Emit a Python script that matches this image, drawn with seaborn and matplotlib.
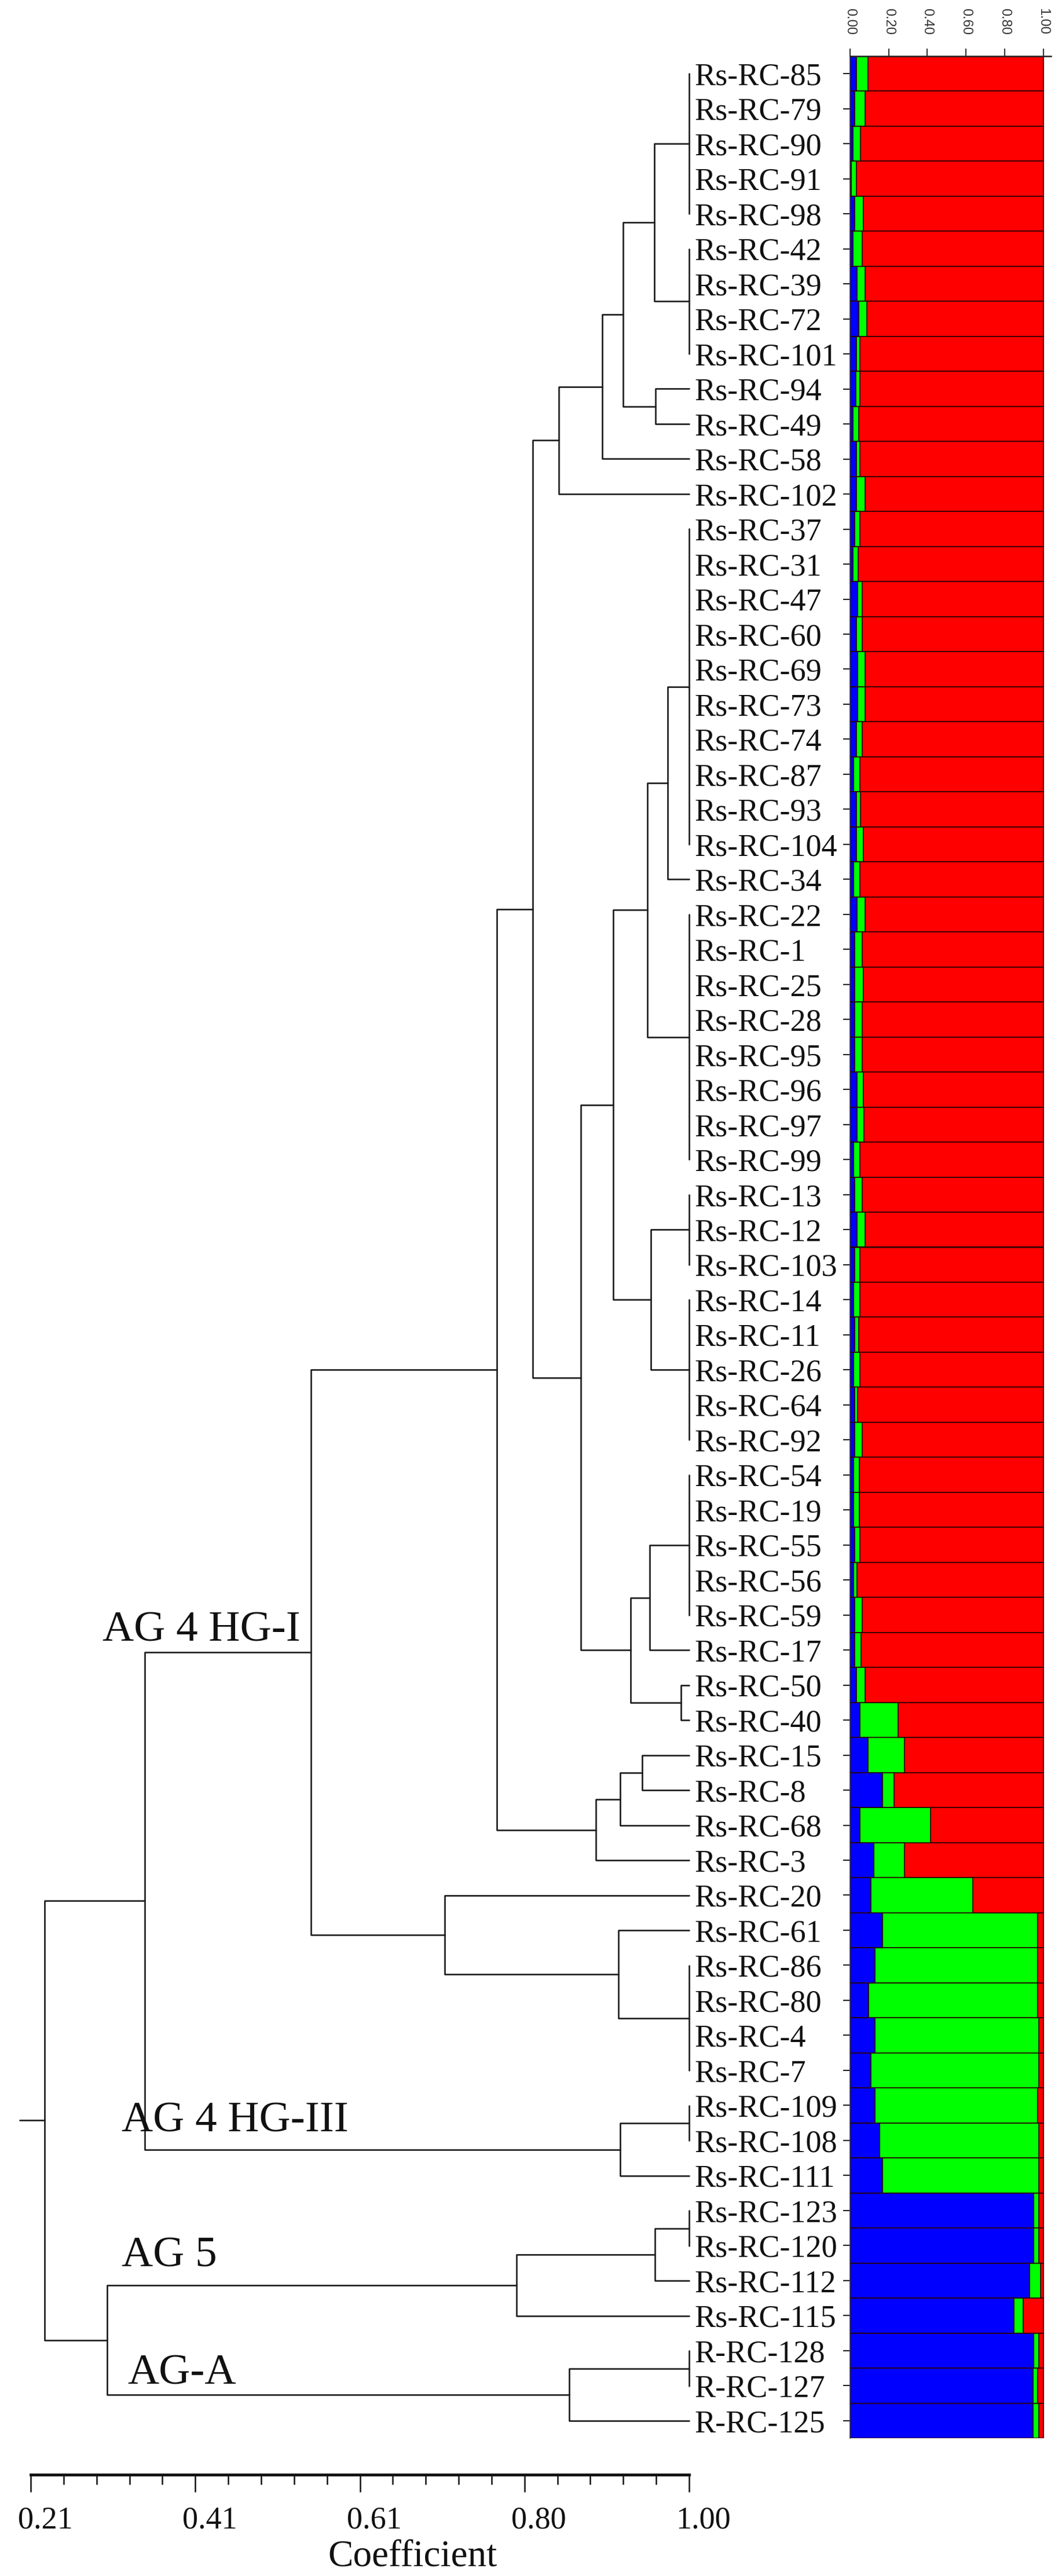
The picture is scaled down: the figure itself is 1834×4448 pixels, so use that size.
import numpy as np
import pandas as pd
import matplotlib
matplotlib.use("Agg")
import matplotlib.pyplot as plt
import matplotlib.transforms as mtransforms
import seaborn as sns

# ---------------- data ----------------
samples = ["Rs-RC-85", "Rs-RC-79", "Rs-RC-90", "Rs-RC-91", "Rs-RC-98", "Rs-RC-42", "Rs-RC-39",
           "Rs-RC-72", "Rs-RC-101", "Rs-RC-94", "Rs-RC-49", "Rs-RC-58", "Rs-RC-102", "Rs-RC-37",
           "Rs-RC-31", "Rs-RC-47", "Rs-RC-60", "Rs-RC-69", "Rs-RC-73", "Rs-RC-74", "Rs-RC-87",
           "Rs-RC-93", "Rs-RC-104", "Rs-RC-34", "Rs-RC-22", "Rs-RC-1", "Rs-RC-25", "Rs-RC-28",
           "Rs-RC-95", "Rs-RC-96", "Rs-RC-97", "Rs-RC-99", "Rs-RC-13", "Rs-RC-12", "Rs-RC-103",
           "Rs-RC-14", "Rs-RC-11", "Rs-RC-26", "Rs-RC-64", "Rs-RC-92", "Rs-RC-54", "Rs-RC-19",
           "Rs-RC-55", "Rs-RC-56", "Rs-RC-59", "Rs-RC-17", "Rs-RC-50", "Rs-RC-40", "Rs-RC-15",
           "Rs-RC-8", "Rs-RC-68", "Rs-RC-3", "Rs-RC-20", "Rs-RC-61", "Rs-RC-86", "Rs-RC-80",
           "Rs-RC-4", "Rs-RC-7", "Rs-RC-109", "Rs-RC-108", "Rs-RC-111", "Rs-RC-123", "Rs-RC-120",
           "Rs-RC-112", "Rs-RC-115", "R-RC-128", "R-RC-127", "R-RC-125"]

# membership coefficients (blue, green); red is the remainder
q_blue = [.033, .023, .015, .006, .023, .015, .035, .045, .032, .030, .015, .032, .032, .023,
          .015, .040, .032, .040, .040, .032, .018, .032, .032, .018, .035, .025, .025, .025,
          .025, .035, .035, .018, .025, .035, .023, .018, .025, .018, .025, .025, .018, .018,
          .025, .018, .025, .023, .032, .050, .094, .168, .050, .124, .109, .168, .129, .097,
          .129, .109, .129, .153, .168, .950, .950, .929, .847, .950, .946, .946]
q_green = [.061, .056, .039, .026, .046, .049, .044, .042, .020, .022, .030, .020, .045, .029,
           .028, .024, .032, .037, .037, .032, .034, .022, .037, .034, .042, .039, .044, .039,
           .039, .034, .036, .034, .037, .042, .029, .034, .020, .034, .013, .039, .030, .030,
           .027, .017, .039, .034, .045, .200, .188, .060, .366, .158, .527, .802, .841, .873,
           .849, .869, .841, .825, .810, .028, .028, .056, .049, .028, .024, .032]

# dendrogram nodes: rows lo..hi split at row `mid` (second child starts there), joined at coefficient
node_lo = [0, 9, 0, 0, 0, 13, 13, 32, 13, 40, 46, 40, 13, 0, 48, 48, 48, 0, 53, 52, 0, 58, 0,
           61, 61, 65, 61, 0]
node_mid = [5, 10, 9, 11, 12, 23, 24, 35, 32, 45, 47, 46, 40, 13, 49, 50, 51, 48, 54, 53, 52,
            60, 58, 63, 64, 67, 65, 61]
node_hi = [8, 10, 10, 11, 12, 23, 31, 39, 39, 45, 47, 47, 47, 47, 49, 50, 51, 51, 57, 57, 57,
           60, 60, 63, 64, 67, 67, 67]
node_coef = [0.958, 0.960, 0.921, 0.896, 0.844, 0.974, 0.950, 0.954, 0.909, 0.953, 0.990,
             0.930, 0.870, 0.8125, 0.944, 0.917, 0.888, 0.769, 0.915, 0.707, 0.546, 0.917,
             0.347, 0.959, 0.793, 0.856, 0.302, 0.227]
root_stub = 0.197

group_names = ["AG 4 HG-I", "AG 4 HG-III", "AG 5", "AG-A"]
group_x = [0.296, 0.319, 0.319, 0.326]
group_row = [44.73, 58.74, 62.58, 65.95]

coef_ticks = np.linspace(0.21, 1.00, 5)
coef_ticklabels = ["0.21", "0.41", "0.61", "0.80", "1.00"]
bar_ticks = [0.0, 0.2, 0.4, 0.6, 0.8, 1.0]
bar_ticklabels = ["0.00", "0.20", "0.40", "0.60", "0.80", "1.00"]

# ---------------- figure ----------------
sns.set_style("white")
plt.rcParams['font.family'] = ['Liberation Serif', 'DejaVu Serif']

W, H = 1834, 4448
fig = plt.figure(figsize=(W / 100, H / 100), dpi=100)

def frac(x0, y0, x1, y1):
    return [x0 / W, 1 - y1 / H, (x1 - x0) / W, (y1 - y0) / H]

ax_d = fig.add_axes(frac(53, 97, 1190, 4273))
ax_b = fig.add_axes(frac(1468, 97, 1815, 4210))

n = len(samples)
df = pd.DataFrame({"sample": samples, "blue": q_blue, "green": q_green})
df["green_end"] = df["blue"] + df["green"]
df["red_end"] = 1.0

edge = "#2a0000"
for col, c in [("red_end", "#ff0000"), ("green_end", "#00ff00"), ("blue", "#0000ff")]:
    sns.barplot(data=df, x=col, y="sample", orient="h", color=c, saturation=1,
                width=1.0, edgecolor=edge, linewidth=1.2, errorbar=None, ax=ax_b)

ax_b.set_xlim(0, 1.04)
ax_b.set_ylim(n - 0.5, -0.5)
ax_b.set_xlabel("")
ax_b.set_ylabel("")
ax_b.xaxis.tick_top()
ax_b.set_xticks(bar_ticks)
ax_b.set_xticklabels(bar_ticklabels)
ax_b.tick_params(axis="x", top=True, bottom=False, labeltop=True, labelbottom=False,
                 direction="out", length=9.5, width=1.5, pad=17, labelsize=17,
                 labelrotation=-90, colors="#333333")
for t in ax_b.get_xticklabels():
    t.set_fontfamily("Liberation Sans")
ax_b.set_yticks(range(n))
ax_b.set_yticklabels(samples, ha="left")
ax_b.tick_params(axis="y", left=True, direction="out", length=8.6, width=1.5,
                 pad=185, labelsize=39, colors="#222222", labelcolor="#111111")
for s in ["right", "bottom"]:
    ax_b.spines[s].set_visible(False)
ax_b.spines["top"].set_linewidth(1.8)
ax_b.spines["top"].set_color("#222222")
ax_b.spines["left"].set_linewidth(1.2)
ax_b.spines["left"].set_color("#333333")

# ---------------- dendrogram ----------------
lc = "#1a1a1a"
lw = 1.9
pos = {}
drawn_flat = set()

def child(lo, hi):
    if (lo, hi) in pos:
        return pos[(lo, hi)]
    if hi > lo and (lo, hi) not in drawn_flat:
        ax_d.plot([1.0, 1.0], [lo, hi], color=lc, lw=lw, clip_on=False)
        drawn_flat.add((lo, hi))
    return 1.0, (lo + hi) / 2

for lo, mid, hi, h in zip(node_lo, node_mid, node_hi, node_coef):
    x1, y1 = child(lo, mid - 1)
    x2, y2 = child(mid, hi)
    ax_d.plot([x1, h, h, x2], [y1, y1, y2, y2], color=lc, lw=lw, clip_on=False)
    pos[(lo, hi)] = (h, (y1 + y2) / 2)

rx, ry = pos[(0, n - 1)]
ax_d.plot([root_stub, rx], [ry, ry], color=lc, lw=lw, clip_on=False)

for name, gx, gy in zip(group_names, group_x, group_row):
    ax_d.text(gx, gy, name, fontsize=54, va="baseline", ha="left", color="#111111")

ax_d.set_xlim(0.21, 1.00)
ax_d.set_ylim(68.53, -0.496)
for s in ["top", "right", "left"]:
    ax_d.spines[s].set_visible(False)
ax_d.spines["bottom"].set_linewidth(3.5)
ax_d.spines["bottom"].set_color("#111111")
ax_d.set_yticks([])
ax_d.set_xticks(coef_ticks)
ax_d.set_xticklabels(coef_ticklabels)
ax_d.set_xticks(np.linspace(0.21, 1.00, 21), minor=True)
ax_d.tick_params(axis="x", which="major", bottom=True, direction="out", length=21.6,
                 width=1.8, pad=17, labelsize=39, colors="#111111")
ax_d.tick_params(axis="x", which="minor", bottom=True, direction="out", length=12,
                 width=1.8, colors="#111111")
shift = mtransforms.ScaledTranslation(0.25, 0, fig.dpi_scale_trans)
for t in ax_d.get_xticklabels():
    t.set_transform(t.get_transform() + shift)
ax_d.set_xlabel("Coefficient", fontsize=47, color="#111111")
ax_d.xaxis.set_label_coords(0.58, -0.027)

fig.savefig("out.png", dpi=100, facecolor="white")
